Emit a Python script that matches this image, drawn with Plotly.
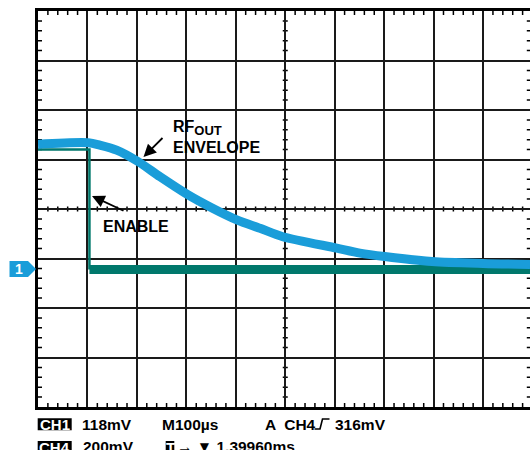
import plotly.graph_objects as go

# ---- data (scope divisions: x 0..10 time divisions, y -4..4 vertical divisions) ----
rf_time = [0.0, 1.02, 1.25, 1.59, 2.02, 2.47, 3.01, 3.54, 4.02, 4.49, 4.95, 6.04, 6.51, 7.01, 7.97, 9.0, 9.95]
rf_level = [1.31, 1.34, 1.29, 1.19, 0.96, 0.65, 0.30, 0.01, -0.22, -0.39, -0.56, -0.79, -0.89, -0.96, -1.06, -1.10, -1.12]

enable_time = [0.0, 1.04, 1.04, 9.95]
enable_level = [1.20, 1.20, -1.22, -1.22]

status_row1 = ["118mV", "M100µs", "A  CH4", "316mV"]
status_row2 = ["200mV", "→ ▼ 1.39960ms"]

BLUE = "#1a9dd9"
TEAL = "#00786c"
FONT = "Liberation Sans, Arial, sans-serif"

# ---- geometry helpers (pixels -> paper / data) ----
L, T, R, B = 38, 11, 530, 407
DIVPX_X = 49.45
DIVPX_Y = (B - T) / 8.0
XMAX = (R - L) / DIVPX_X


def pxx(px):
    return (px - L) / (R - L)


def pxy(py):
    return (B - py) / (B - T)


def dx(px):
    return (px - L) / DIVPX_X


def dy(py):
    return (T + 4 * DIVPX_Y - py) / DIVPX_Y


fig = go.Figure()

# enable (CH4)
fig.add_trace(go.Scatter(x=enable_time[:3], y=enable_level[:3], mode="lines",
                         line=dict(color=TEAL, width=2.5), hoverinfo="skip"))
fig.add_trace(go.Scatter(x=enable_time[2:], y=enable_level[2:], mode="lines",
                         line=dict(color=TEAL, width=9), hoverinfo="skip"))
# RF envelope (CH1)
fig.add_trace(go.Scatter(x=rf_time, y=rf_level, mode="lines",
                         line=dict(color=BLUE, width=9, shape="spline", smoothing=0.8),
                         hoverinfo="skip"))

# ---- minor ticks as one path ----
tl_x = 4 / DIVPX_X
tl_y = 4 / DIVPX_Y
cx = 2.5 / DIVPX_X
cy = 2.5 / DIVPX_Y
segs = []
for i in range(0, 50):
    if i % 5 == 0:
        continue
    x = i * 0.2
    if x > XMAX:
        break
    segs.append(f"M{x},4 L{x},{4 - tl_y}")
    segs.append(f"M{x},-4 L{x},{-4 + tl_y}")
    segs.append(f"M{x},{-cy} L{x},{cy}")
for j in range(-20, 20):
    if j % 5 == 0:
        continue
    y = j * 0.2
    segs.append(f"M0,{y} L{tl_x},{y}")
    segs.append(f"M{XMAX},{y} L{XMAX - tl_x * 0.8},{y}")
    segs.append(f"M{5 - cx},{y} L{5 + cx},{y}")
fig.add_shape(type="path", path=" ".join(segs), xref="x", yref="y",
              line=dict(color="black", width=1.5), layer="below")

# ---- channel marker "1" ----
mk_y = 269
fig.add_shape(type="path", xref="paper", yref="paper",
              path=(f"M{pxx(9.5)},{pxy(mk_y - 8)} L{pxx(28)},{pxy(mk_y - 8)} L{pxx(36)},{pxy(mk_y)} "
                    f"L{pxx(28)},{pxy(mk_y + 8)} L{pxx(9.5)},{pxy(mk_y + 8)} Z"),
              fillcolor=BLUE, line=dict(width=0))
fig.add_annotation(x=pxx(19), y=pxy(mk_y), xref="paper", yref="paper", text="<b>1</b>",
                   showarrow=False, font=dict(family=FONT, size=14, color="white"),
                   xanchor="center", yanchor="middle")


# ---- chart labels ----
def label(text, px, py, size=16, color="black", xanchor="left", pad=1):
    fig.add_annotation(x=pxx(px), y=pxy(py), xref="paper", yref="paper", text=f"<b>{text}</b>",
                       showarrow=False, font=dict(family=FONT, size=size, color=color),
                       xanchor=xanchor, yanchor="middle", borderpad=pad, align="left")


label("RF<sub><span style='font-size:13px'>OUT</span></sub><br>ENVELOPE", 170.5, 136.5)
label("ENABLE", 100.5, 226.2)

# arrows
fig.add_annotation(x=dx(143.5), y=dy(157), xref="x", yref="y", text="", showarrow=True,
                   ax=20.5, ay=-20.5, arrowhead=2, arrowsize=1.4, arrowwidth=1.8, arrowcolor="black")
fig.add_annotation(x=dx(92), y=dy(196), xref="x", yref="y", text="", showarrow=True,
                   ax=33, ay=15.5, arrowhead=2, arrowsize=1.4, arrowwidth=1.8, arrowcolor="black")

# ---- status lines below the graticule ----
SZ = 15.5
r1, r2 = 424.2, 446.5
for (x0, x1, y0, y1, t, cxp) in [(37.7, 71.7, 418.3, 430.3, "CH1", 54.7),
                                   (37.7, 71.7, 441.0, 453.0, "CH4", 54.7),
                                   (165.7, 174.3, 441.0, 453.0, "T", 170.0)]:
    fig.add_shape(type="rect", xref="paper", yref="paper", x0=pxx(x0), x1=pxx(x1),
                  y0=pxy(y1), y1=pxy(y0), fillcolor="black", line=dict(width=0))
    label(t, cxp, (y0 + y1) / 2 + 0.3, size=15, color="white", xanchor="center")

label(status_row1[0], 80.2, r1, size=SZ)
label(status_row1[1], 159.5, r1, size=SZ)
label(status_row1[2], 262.5, r1, size=SZ)
label(status_row1[3], 332.5, r1, size=SZ)
label(status_row2[0], 80.7, r2, size=SZ)
label(status_row2[1], 175.0, r2, size=SZ)

# trigger edge symbol
fig.add_shape(type="path", xref="paper", yref="paper",
              path=(f"M{pxx(314.5)},{pxy(429)} L{pxx(320)},{pxy(429)} L{pxx(322.5)},{pxy(419)} "
                    f"L{pxx(329.5)},{pxy(419)}"),
              line=dict(color="black", width=1.6))

fig.update_layout(
    width=530, height=450,
    margin=dict(l=L, r=530 - R, t=T, b=450 - B, pad=0),
    paper_bgcolor="white", plot_bgcolor="white", showlegend=False,
    xaxis=dict(range=[0, XMAX], dtick=1, tick0=0, showgrid=True, gridcolor="#1a1a1a", gridwidth=1.6,
               showline=True, linecolor="black", linewidth=2.5, mirror=True,
               zeroline=False, showticklabels=False, ticks="", fixedrange=True),
    yaxis=dict(range=[-4, 4], dtick=1, tick0=0, showgrid=True, gridcolor="#1a1a1a", gridwidth=1.6,
               showline=True, linecolor="black", linewidth=2.5, mirror=False,
               zeroline=False, showticklabels=False, ticks="", fixedrange=True),
)

fig.write_html("out.html", config={"displayModeBar": False},
               post_script="document.body.style.margin='0px';document.body.style.overflow='hidden';")
